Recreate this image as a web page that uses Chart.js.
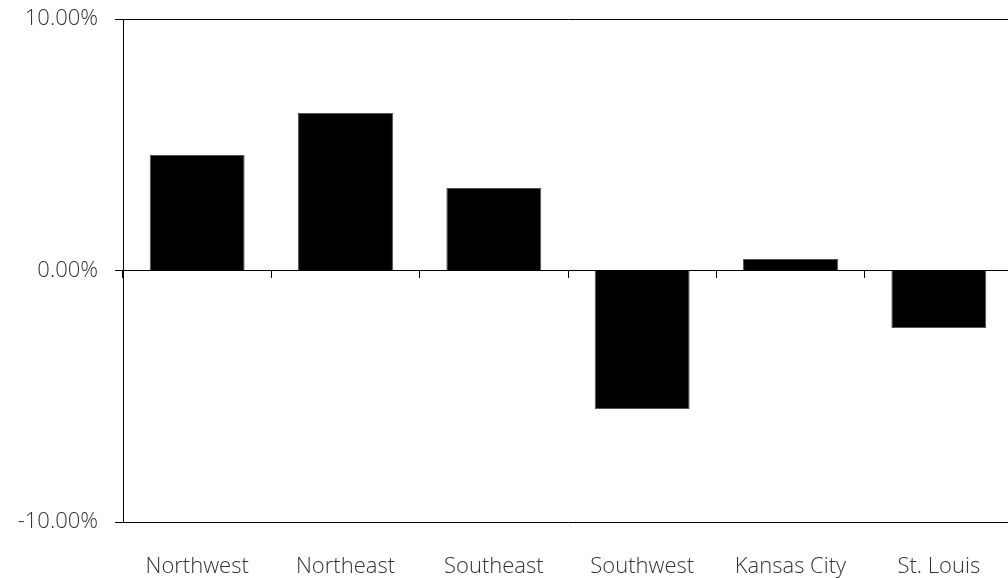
<!DOCTYPE html>
<html>
<head>
<meta charset="utf-8">
<script src="https://cdn.jsdelivr.net/npm/chart.js@4"></script>
<style>
  html, body { margin: 0; padding: 0; background: #fff; overflow: hidden; }
  #wrap { width: 1013px; height: 579px; position: relative; }
</style>
</head>
<body>
<div id="wrap"><canvas id="growth-chart"></canvas></div>
<script>
// Regional change, percent
const regions = ['Northwest', 'Northeast', 'Southeast', 'Southwest', 'Kansas City', 'St. Louis'];
const changes = [4.59, 6.26, 3.28, -5.51, 0.46, -2.29];
const yTicks = [-10, 0, 10];

const labelFont = { family: '"Open Sans", sans-serif', size: 22, weight: 300 };

function noPad(s) {
    s.paddingTop = 0;
    s.paddingBottom = 0;
    s.paddingLeft = 0;
    s.paddingRight = 0;
}

new Chart(document.getElementById('growth-chart'), {
    type: 'bar',
    data: {
        labels: regions,
        datasets: [{
            data: changes,
            backgroundColor: '#000',
            borderColor: '#555',
            borderWidth: 1,
            categoryPercentage: 1,
            barPercentage: 0.64,
            xAxisID: 'x'
        }]
    },
    options: {
        responsive: true,
        maintainAspectRatio: false,
        animation: false,
        layout: { padding: { top: 19, right: 0, left: 0, bottom: 0 } },
        plugins: {
            legend: { display: false },
            tooltip: { enabled: false }
        },
        scales: {
            x: {
                position: 'bottom',
                offset: true,
                grid: { display: false, drawTicks: false },
                border: { display: false },
                ticks: { color: '#333', font: labelFont, padding: 32, maxRotation: 0 },
                afterFit: s => { s.height = 57; noPad(s); }
            },
            // zero line tick marks between categories
            x2: {
                type: 'category',
                position: { y: 0 },
                offset: true,
                grid: { offset: true, drawOnChartArea: false, drawTicks: true, tickLength: 7, color: '#000' },
                border: { display: false },
                ticks: { display: false },
                afterFit: s => { s.height = 0; noPad(s); }
            },
            y: {
                min: -10,
                max: 10,
                afterBuildTicks: s => { s.ticks = yTicks.map(v => ({ value: v })); },
                grid: { color: '#000', tickLength: 8, lineWidth: 1 },
                border: { display: true, color: '#000' },
                ticks: {
                    color: '#333',
                    font: labelFont,
                    padding: 17,
                    callback: v => v.toFixed(2) + '%'
                },
                afterFit: s => { s.width = 123; noPad(s); }
            }
        }
    }
});
</script>
</body>
</html>
